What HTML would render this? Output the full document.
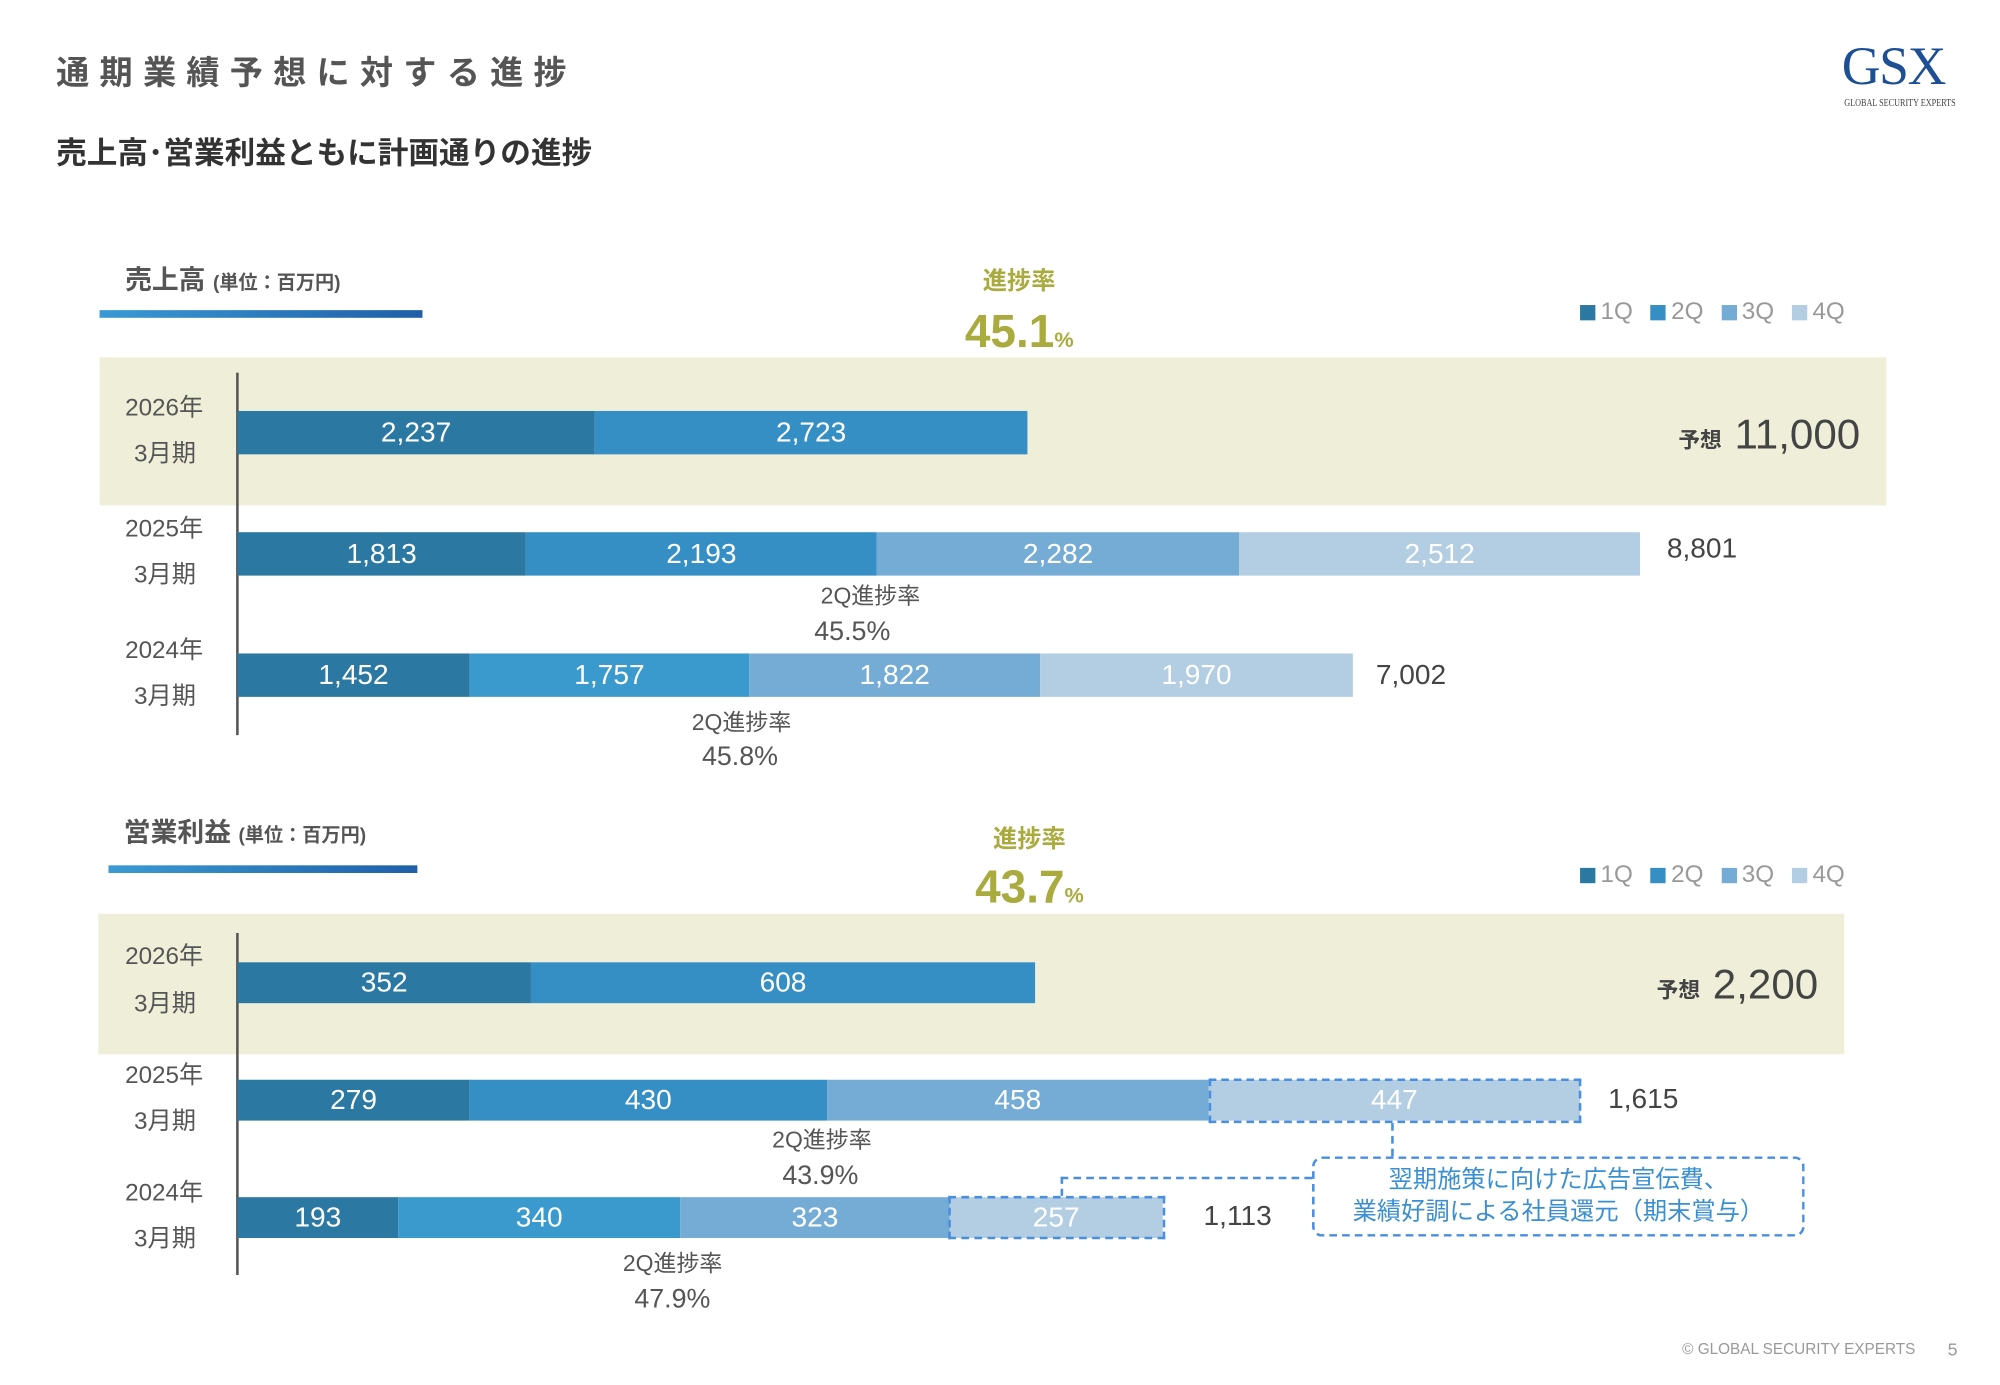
<!DOCTYPE html>
<html><head><meta charset="utf-8">
<style>
html,body{margin:0;padding:0;background:#fff;width:2000px;height:1385px;overflow:hidden}
#s{position:absolute;left:0;top:0;width:1567px;height:1085px;transform:scale(1.2763);transform-origin:0 0;font-family:"Liberation Sans","Noto Sans CJK JP",sans-serif;color:#555}
.a{position:absolute;white-space:nowrap}
.c{position:absolute;white-space:nowrap;transform:translateY(-50%);line-height:1}
.b{position:absolute;display:flex;align-items:center;justify-content:center;color:#fff;font-size:22px}
.yr{font-size:19px;color:#555}
.ol{color:#a9ab3e;font-weight:bold}
.lg{position:absolute;font-size:19px;color:#999;display:flex;align-items:center;gap:0}
.lg i{display:inline-block;width:12px;height:12px;margin-right:4px}
.lg span{margin-right:14px}
.dash{position:absolute;border:2px dashed #4a8ee0;box-sizing:border-box}
</style></head><body><div id="s">
<div class="c" style="left:44px;top:57px;font-size:26px;font-weight:bold;letter-spacing:8px;color:#555">通期業績予想に対する進捗</div>
<div class="c" style="left:44px;top:121px;font-size:24px;font-weight:bold;color:#333">売上高･営業利益ともに計画通りの進捗</div>
<div class="c" style="left:1443px;top:53px;font-family:'Liberation Serif',serif;font-size:42px;color:#1c4f94;letter-spacing:-1px">GSX</div>
<div class="c" style="left:1445px;top:81px;font-family:'Liberation Serif',serif;font-size:8px;color:#444;transform:translateY(-50%) scaleX(0.8);transform-origin:0 0">GLOBAL SECURITY EXPERTS</div>

<!-- chart 1 -->
<div class="c" style="left:98px;top:220px;font-size:21px;font-weight:bold;color:#555">売上高 <span style="font-size:15px">(単位：百万円)</span></div>
<div class="a" style="left:78px;top:243px;width:253px;height:6px;background:linear-gradient(90deg,#3a9ad5,#1f5fa8)"></div>
<div class="c ol" style="left:770px;top:221px;font-size:19px">進捗率</div>
<div class="c ol" style="left:756px;top:260px;font-size:36px">45.1<span style="font-size:17px">%</span></div>
<div class="a" style="left:790px;top:285px;width:0;height:0;border-left:12px solid transparent;border-right:12px solid transparent;border-top:19px solid #a9ab3e"></div>
<div class="lg" style="left:1238px;top:234px"><i style="background:#2b78a3"></i><span>1Q</span><i style="background:#358fc4"></i><span>2Q</span><i style="background:#75acd6"></i><span>3Q</span><i style="background:#b3cde3"></i><span>4Q</span></div>
<div class="a" style="left:78px;top:280px;width:1400px;height:116px;background:#efefd9"></div>
<div class="a" style="left:185px;top:292px;width:1.5px;height:284px;background:#555"></div>
<div class="c yr" style="left:98px;top:320px">2026年</div><div class="c yr" style="left:105px;top:356px">3月期</div>
<div class="c yr" style="left:98px;top:415px">2025年</div><div class="c yr" style="left:105px;top:451px">3月期</div>
<div class="c yr" style="left:98px;top:510px">2024年</div><div class="c yr" style="left:105px;top:546px">3月期</div>
<div class="b" style="left:186px;top:322px;width:280px;height:34px;background:#2b78a3">2,237</div>
<div class="b" style="left:466px;top:322px;width:339px;height:34px;background:#358fc4">2,723</div>
<div class="b" style="left:186px;top:417px;width:226px;height:34px;background:#2b78a3">1,813</div>
<div class="b" style="left:412px;top:417px;width:275px;height:34px;background:#358fc4">2,193</div>
<div class="b" style="left:687px;top:417px;width:284px;height:34px;background:#75acd6">2,282</div>
<div class="b" style="left:971px;top:417px;width:314px;height:34px;background:#b3cde3">2,512</div>
<div class="b" style="left:186px;top:512px;width:182px;height:34px;background:#2b78a3">1,452</div>
<div class="b" style="left:368px;top:512px;width:219px;height:34px;background:#3a9acd">1,757</div>
<div class="b" style="left:587px;top:512px;width:228px;height:34px;background:#75acd6">1,822</div>
<div class="b" style="left:815px;top:512px;width:245px;height:34px;background:#b3cde3">1,970</div>
<div class="c" style="left:1306px;top:430px;font-size:22px;color:#444">8,801</div>
<div class="c" style="left:1078px;top:529px;font-size:22px;color:#444">7,002</div>
<div class="c" style="left:1315px;top:345px;font-size:17px;font-weight:bold;color:#444">予想</div>
<div class="c" style="left:1359px;top:340px;font-size:33px;color:#444">11,000</div>
<div class="c" style="left:643px;top:467px;font-size:18px;color:#555">2Q進捗率</div>
<div class="c" style="left:638px;top:495px;font-size:21px;color:#555">45.5%</div>
<div class="c" style="left:542px;top:566px;font-size:18px;color:#555">2Q進捗率</div>
<div class="c" style="left:550px;top:593px;font-size:21px;color:#555">45.8%</div>

<!-- chart 2 -->
<div class="c" style="left:97px;top:653px;font-size:21px;font-weight:bold;color:#555">営業利益 <span style="font-size:15px">(単位：百万円)</span></div>
<div class="a" style="left:85px;top:678px;width:242px;height:6px;background:linear-gradient(90deg,#3a9ad5,#1f5fa8)"></div>
<div class="c ol" style="left:778px;top:658px;font-size:19px">進捗率</div>
<div class="c ol" style="left:764px;top:695px;font-size:36px">43.7<span style="font-size:17px">%</span></div>
<div class="a" style="left:797px;top:723px;width:0;height:0;border-left:12px solid transparent;border-right:12px solid transparent;border-top:20px solid #a9ab3e"></div>
<div class="lg" style="left:1238px;top:675px"><i style="background:#2b78a3"></i><span>1Q</span><i style="background:#358fc4"></i><span>2Q</span><i style="background:#75acd6"></i><span>3Q</span><i style="background:#b3cde3"></i><span>4Q</span></div>
<div class="a" style="left:77px;top:716px;width:1368px;height:110px;background:#efefd9"></div>
<div class="a" style="left:185px;top:731px;width:1.5px;height:268px;background:#555"></div>
<div class="c yr" style="left:98px;top:750px">2026年</div><div class="c yr" style="left:105px;top:787px">3月期</div>
<div class="c yr" style="left:98px;top:843px">2025年</div><div class="c yr" style="left:105px;top:879px">3月期</div>
<div class="c yr" style="left:98px;top:935px">2024年</div><div class="c yr" style="left:105px;top:971px">3月期</div>
<div class="b" style="left:186px;top:754px;width:230px;height:32px;background:#2b78a3">352</div>
<div class="b" style="left:416px;top:754px;width:395px;height:32px;background:#358fc4">608</div>
<div class="b" style="left:186px;top:846px;width:182px;height:32px;background:#2b78a3">279</div>
<div class="b" style="left:368px;top:846px;width:280px;height:32px;background:#358fc4">430</div>
<div class="b" style="left:648px;top:846px;width:299px;height:32px;background:#75acd6">458</div>
<div class="b" style="left:947px;top:846px;width:291px;height:32px;background:#b3cde3">447</div>
<div class="dash" style="left:947px;top:845px;width:292px;height:35px"></div>
<div class="b" style="left:186px;top:938px;width:126px;height:32px;background:#2b78a3">193</div>
<div class="b" style="left:312px;top:938px;width:221px;height:32px;background:#3a9acd">340</div>
<div class="b" style="left:533px;top:938px;width:211px;height:32px;background:#75acd6">323</div>
<div class="b" style="left:744px;top:938px;width:167px;height:32px;background:#b3cde3">257</div>
<div class="dash" style="left:743px;top:937px;width:170px;height:34px"></div>
<div class="c" style="left:1260px;top:861px;font-size:22px;color:#444">1,615</div>
<div class="c" style="left:943px;top:953px;font-size:22px;color:#444">1,113</div>
<div class="c" style="left:1298px;top:776px;font-size:17px;font-weight:bold;color:#444">予想</div>
<div class="c" style="left:1342px;top:771px;font-size:33px;color:#444">2,200</div>
<div class="c" style="left:605px;top:893px;font-size:18px;color:#555">2Q進捗率</div>
<div class="c" style="left:613px;top:921px;font-size:21px;color:#555">43.9%</div>
<div class="c" style="left:488px;top:990px;font-size:18px;color:#555">2Q進捗率</div>
<div class="c" style="left:497px;top:1018px;font-size:21px;color:#555">47.9%</div>
<div class="a" style="left:1090px;top:880px;height:26px;border-left:2px dashed #4a8ee0"></div>
<div class="a" style="left:831px;top:922px;height:15px;border-left:2px dashed #4a8ee0"></div>
<div class="a" style="left:831px;top:922px;width:197px;border-top:2px dashed #4a8ee0"></div>
<div class="dash" style="left:1028px;top:906px;width:386px;height:63px;border-radius:8px"></div>
<div class="c" style="left:1028px;top:925px;width:386px;text-align:center;font-size:19px;color:#3a8fd0">翌期施策に向けた広告宣伝費、</div>
<div class="c" style="left:1028px;top:950px;width:386px;text-align:center;font-size:19px;color:#3a8fd0">業績好調による社員還元（期末賞与）</div>

<div class="c" style="left:1318px;top:1057px;font-size:12px;color:#999">© GLOBAL SECURITY EXPERTS</div>
<div class="c" style="left:1526px;top:1057px;font-size:14px;color:#999">5</div>
</div></body></html>
